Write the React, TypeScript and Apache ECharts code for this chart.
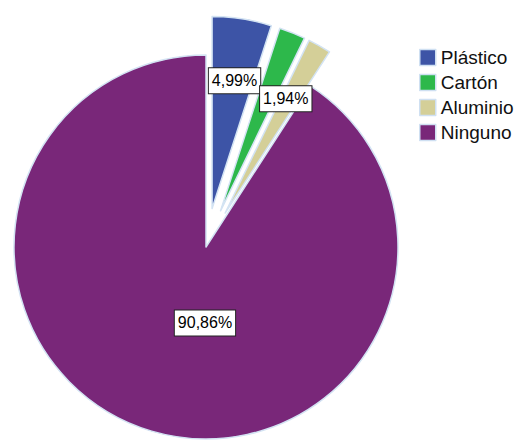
import React, { useEffect, useRef } from "react";
import * as echarts from "echarts";

const categories = ["Plástico", "Cartón", "Aluminio", "Ninguno"];
const values = [4.99, 2.21, 1.94, 90.86];
const colors = ["#3d54a6", "#2db84b", "#d4cf98", "#792779"];
const exploded = [true, true, true, false];
const showLabel = [true, false, true, true];
const labelShift: [number, number][] = [
  [7, -30],
  [0, 0],
  [12, -28],
  [27, -19],
];

export default function App() {
  const ref = useRef<HTMLDivElement>(null);
  useEffect(() => {
    document.body.style.margin = "0";
    const chart = echarts.init(ref.current!, undefined, { renderer: "svg" });
    const font = "'Liberation Sans', Arial, sans-serif";
    chart.setOption({
      animation: false,
      backgroundColor: "#ffffff",
      legend: {
        orient: "vertical",
        left: 414,
        top: 43,
        itemWidth: 16,
        itemHeight: 16,
        itemGap: 6,
        selectedMode: false,
        icon: "rect",
        itemStyle: { borderColor: "#cfe0f2", borderWidth: 1.5 },
        textStyle: { fontSize: 19, color: "#111", fontFamily: font },
        data: categories,
      },
      series: [
        {
          type: "pie",
          center: [206, 247],
          radius: [0, 192],
          startAngle: 90,
          clockwise: true,
          selectedMode: "multiple",
          selectedOffset: 39,
          avoidLabelOverlap: false,
          emphasis: { disabled: true },
          itemStyle: { borderColor: "#d3e3f3", borderWidth: 1.5 },
          label: {
            show: true,
            position: "inside",
            formatter: (p: any) => p.value.toFixed(2).replace(".", ",") + "%",
            fontSize: 16,
            fontFamily: font,
            color: "#000",
            backgroundColor: "#ffffff",
            borderColor: "#222",
            borderWidth: 1,
            padding: [5, 3, 4, 3],
          },
          labelLine: { show: false },
          labelLayout: (params: any) => {
            const s = labelShift[params.dataIndex];
            return { dx: s[0], dy: s[1] };
          },
          data: categories.map((name, i) => ({
            name,
            value: values[i],
            selected: exploded[i],
            itemStyle: { color: colors[i] },
            label: { show: showLabel[i] },
          })),
        },
      ],
    });
    return () => chart.dispose();
  }, []);
  return <div ref={ref} style={{ width: 515, height: 440 }} />;
}
